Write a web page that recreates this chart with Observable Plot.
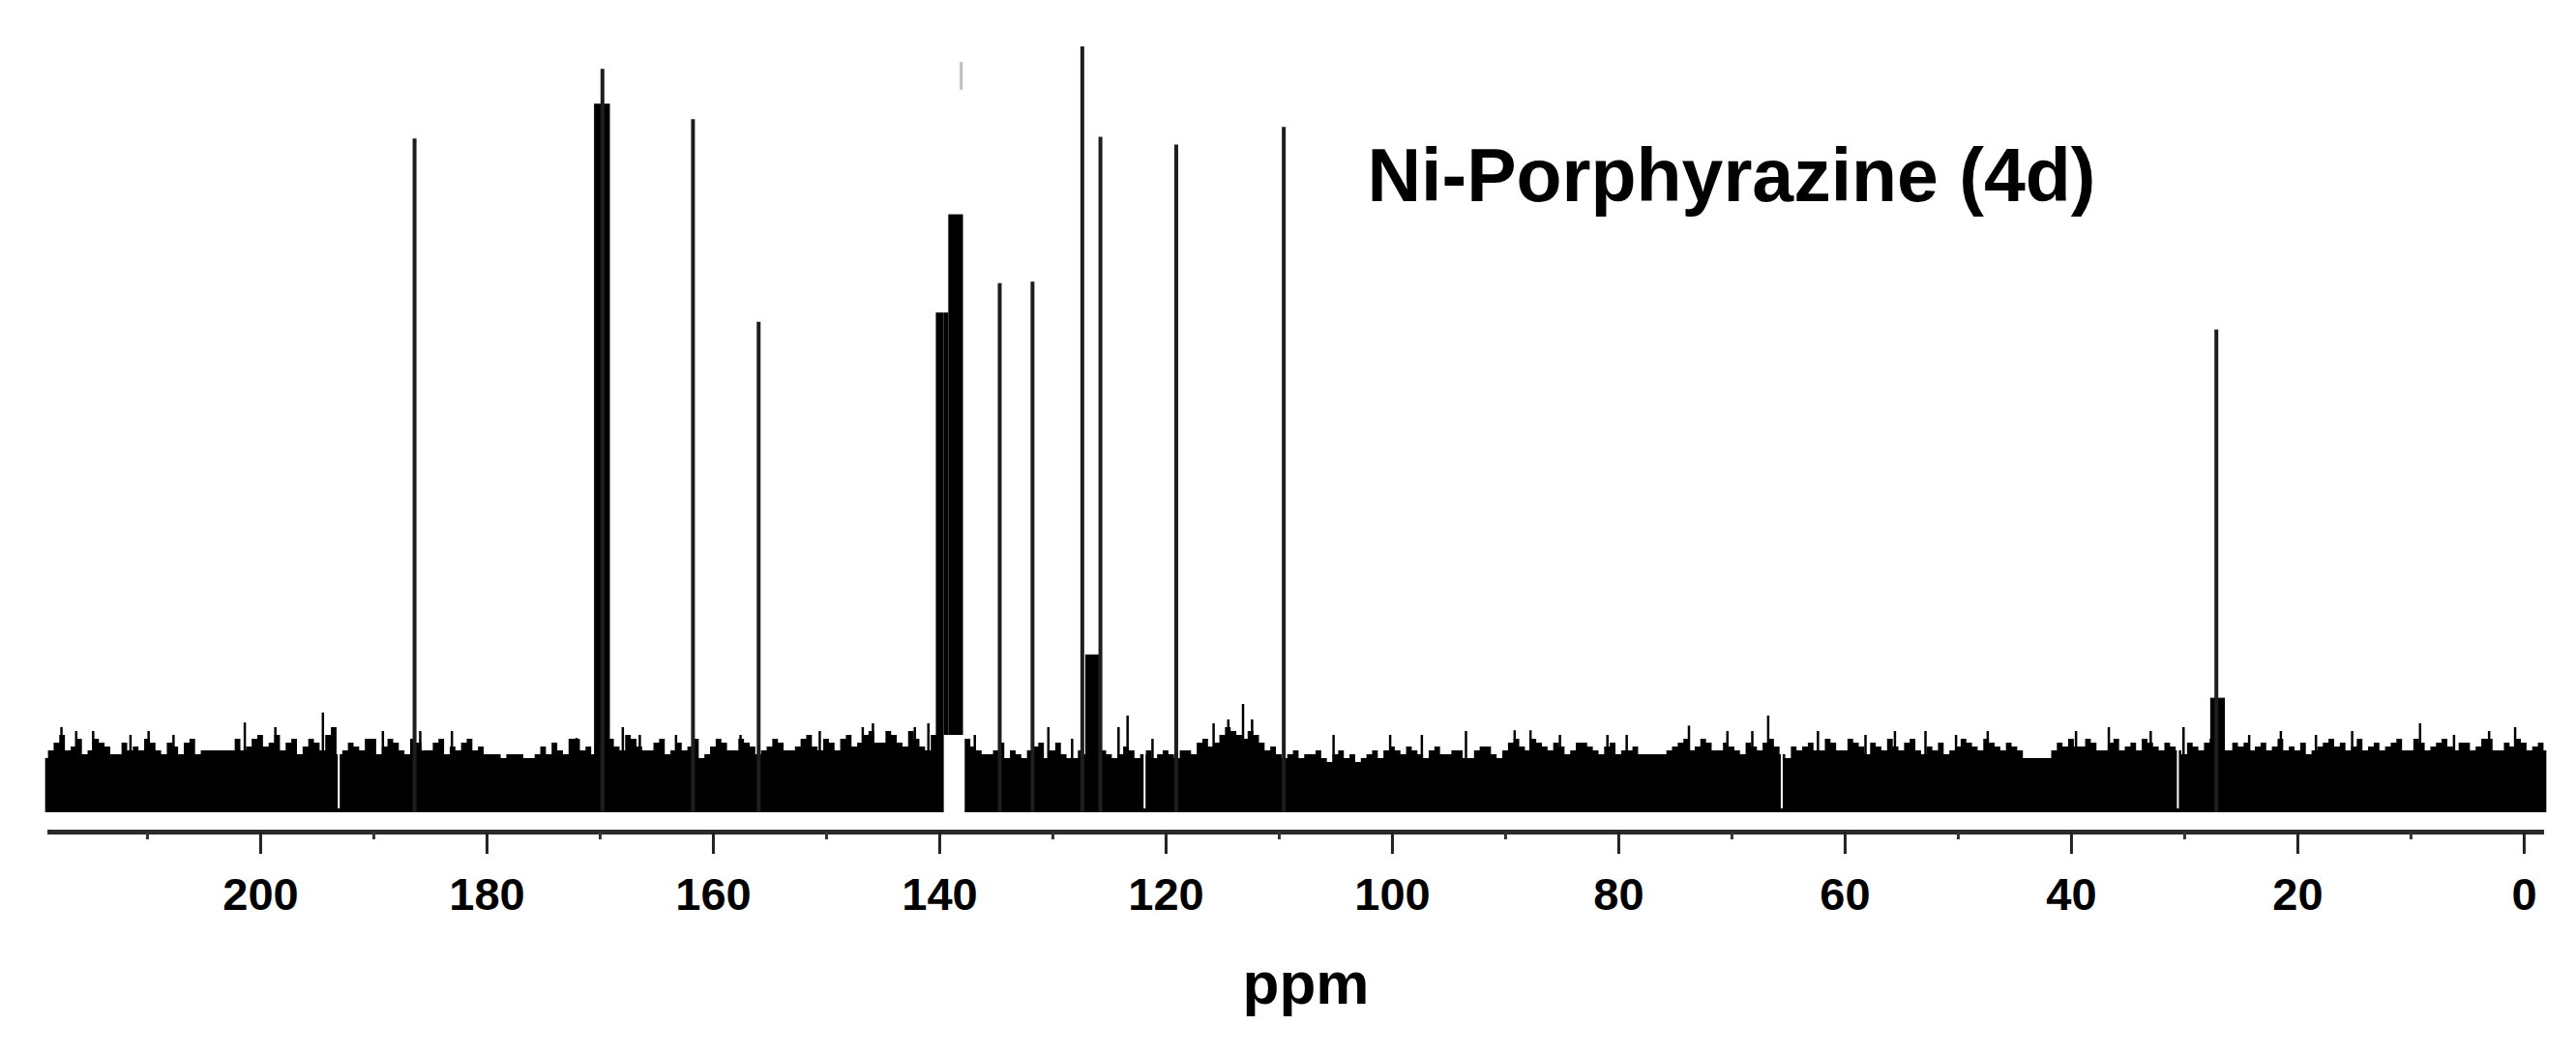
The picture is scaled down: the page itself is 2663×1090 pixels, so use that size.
<!DOCTYPE html>
<html>
<head>
<meta charset="utf-8">
<script src="https://cdn.jsdelivr.net/npm/d3@7"></script>
<script src="https://cdn.jsdelivr.net/npm/@observablehq/plot@0.6"></script>
<style>
  html, body { margin: 0; padding: 0; background: #fff; }
  #chart svg { display: block; }
</style>
</head>
<body>
<div id="chart"></div>
<script>
// ---- data (x in ppm, intensity in arbitrary units; baseline = 0) ----
const chartTitle = "Ni-Porphyrazine (4d)";
const axisLabel = "ppm";
const xDomain = [218.8, -1.8];
const yDomain = [-2.5, 100];
const majorTicks = [200, 180, 160, 140, 120, 100, 80, 60, 40, 20, 0];
const minorTicks = [210, 190, 170, 150, 130, 110, 90, 70, 50, 30, 10];

// thin peak lines
const peakPpm    = [186.4, 169.8, 161.8, 156.0, 134.7, 131.8, 127.4, 125.8, 119.1, 109.6, 27.2];
const peakHeight = [87.1,  96.1,  89.6,  63.4,  68.4,  68.6,  99.0,  87.3,  86.3,  88.6,  62.4];

// faint grey tip above the 138 ppm cluster
const faintPpm = [138.1];
const faintLow = [93.4];
const faintHigh = [97.0];

// broad (thick) parts of peaks: ppm from, ppm to, bottom, top
const blockFrom   = [170.5, 140.3, 139.2, 127.1, 27.7];
const blockTo     = [169.1, 139.6, 137.9, 125.8, 26.4];
const blockBottom = [0,     0,     10,    0,     0];
const blockTop    = [91.6,  64.6,  77.3,  20.4,  14.8];
const shoulderFrom = [139.6];
const shoulderTo   = [139.2];
const shoulderBottom = [10];
const shoulderTop  = [64.6];

// baseline noise envelope, one value per ppm from 219 down to -2
const noiseStartPpm = 219;
const noiseTop = [
  7.0, 9.0, 8.0, 9.5, 8.0, 9.0, 7.5, 9.0, 8.5, 9.5,   // 219..210
  8.0, 9.0, 7.5, 9.5, 8.0, 8.0, 8.0, 9.5, 8.5, 10.0,  // 209..200
  9.0, 8.0, 9.5, 8.5, 9.0, 10.0, 7.5, 9.0, 8.0, 9.5,  // 199..190
  8.5, 9.0, 7.5, 9.0, 8.0, 9.5, 8.5, 9.0, 8.0, 7.5,   // 189..180
  7.5, 7.5, 7.5, 7.0, 8.5, 9.0, 7.5, 9.5, 8.5, 8.0,   // 179..170
  9.5, 8.0, 9.5, 8.0, 9.0, 7.5, 9.0, 8.5, 7.0, 8.5,   // 169..160
  9.0, 8.0, 9.0, 7.5, 8.5, 9.0, 8.0, 9.5, 8.5, 9.5,   // 159..150
  8.0, 10.0, 9.0, 10.5, 9.0, 10.0, 8.5, 9.5, 8.0, 9.0,// 149..140
  0, 0, 8.5, 7.5, 8.0, 7.0, 7.5, 8.0, 9.0, 8.0,       // 139..130
  7.5, 7.0, 7.5, 7.0, 7.5, 7.5, 8.0, 7.5, 7.0, 8.0,   // 129..120
  7.0, 8.0, 9.0, 8.5, 10.0, 10.5, 9.5, 10.0, 8.0, 7.5,// 119..110
  7.5, 7.0, 7.5, 7.0, 7.5, 7.0, 6.5, 7.5, 7.0, 8.5,   // 109..100
  7.5, 8.0, 7.0, 8.5, 7.5, 8.0, 7.0, 8.5, 7.5, 8.0,   // 99..90
  9.5, 8.0, 9.0, 8.0, 8.5, 8.0, 9.0, 8.0, 8.5, 7.5,   // 89..80
  8.0, 7.5, 7.5, 7.5, 8.5, 9.5, 8.5, 9.0, 8.0, 8.5,   // 79..70
  7.5, 8.5, 9.0, 8.5, 7.0, 8.0, 9.0, 8.0, 9.0, 8.0,   // 69..60
  9.0, 7.5, 8.5, 9.5, 8.0, 9.5, 7.5, 8.0, 7.5, 8.5,   // 59..50
  9.0, 8.0, 9.0, 8.0, 8.5, 7.0, 7.0, 7.0, 9.0, 9.5,   // 49..40
  8.5, 9.0, 8.0, 9.5, 8.5, 8.0, 9.0, 8.0, 8.5, 7.5,   // 39..30
  8.5, 9.0, 8.5, 8.0, 8.5, 8.0, 9.0, 8.5, 8.0, 8.0,   // 29..20
  7.5, 8.5, 9.5, 9.0, 8.5, 8.0, 9.0, 8.5, 9.5, 8.0,   // 19..10
  9.0, 8.5, 9.5, 8.0, 9.0, 8.5, 9.5, 8.0, 8.5, 9.0,   // 9..0
  8.5, 8.0                                            // -1..-2
];
// the same envelope at the half-ppm points, 218.5 down to -1.5
const noiseTopHalf = [
  8.0, 10.0, 8.5, 7.5, 9.5, 8.5, 7.5, 8.0, 8.0, 9.0,  // 218.5..209.5
  7.5, 8.5, 9.0, 7.5, 8.0, 8.0, 8.0, 8.0, 9.5, 8.5,   // 208.5..199.5
  10.0, 9.0, 7.5, 9.5, 8.0, 11.0, 8.0, 8.5, 9.5, 7.5, // 198.5..189.5
  9.5, 8.0, 9.5, 8.0, 9.0, 7.5, 8.0, 9.5, 8.5, 7.5,   // 188.5..179.5
  7.0, 7.5, 7.0, 7.5, 7.5, 8.0, 9.5, 8.0, 7.5, 9.0,   // 178.5..169.5
  8.5, 10.0, 8.5, 8.0, 9.5, 8.0, 8.0, 9.5, 7.5, 9.5,  // 168.5..159.5
  8.0, 9.5, 8.5, 8.0, 9.5, 8.0, 8.5, 10.0, 8.0, 9.0,  // 158.5..149.5
  9.5, 8.5, 10.0, 9.0, 10.5, 9.0, 10.5, 8.5, 10.0, 0, // 148.5..139.5
  0, 9.5, 8.0, 7.5, 9.0, 8.0, 7.0, 8.5, 7.0, 9.0,     // 138.5..129.5
  7.0, 8.0, 6.5, 8.0, 7.0, 8.5, 7.0, 8.0, 7.5, 7.5,   // 128.5..119.5
  8.0, 7.5, 9.5, 9.0, 11.0, 10.0, 10.5, 9.0, 8.5, 7.0,// 118.5..109.5
  8.0, 7.5, 8.0, 6.5, 8.0, 7.5, 7.0, 8.0, 8.0, 8.0,   // 108.5..99.5
  8.5, 7.5, 8.0, 7.5, 8.0, 7.0, 8.0, 8.5, 7.0, 9.0,   // 98.5..89.5
  8.5, 9.5, 8.5, 9.0, 7.5, 9.0, 8.5, 7.5, 9.0, 8.0,   // 88.5..79.5
  8.5, 7.5, 7.5, 8.0, 9.0, 8.0, 9.5, 8.0, 9.0, 8.0,   // 78.5..69.5
  9.0, 8.0, 9.5, 7.5, 8.5, 8.5, 8.0, 9.5, 8.0, 9.5,   // 68.5..59.5
  8.5, 9.0, 8.0, 8.5, 9.0, 8.0, 8.5, 9.0, 8.0, 9.5,   // 58.5..49.5
  8.5, 9.5, 8.5, 9.0, 8.0, 7.0, 7.0, 8.0, 8.5, 8.5,   // 48.5..39.5
  9.5, 8.0, 9.0, 8.0, 9.0, 9.5, 8.5, 9.0, 8.0, 9.0,   // 38.5..29.5
  8.0, 9.5, 8.0, 9.0, 9.0, 8.5, 8.0, 9.5, 8.5, 9.0,   // 28.5..19.5
  8.0, 9.0, 8.5, 8.0, 9.5, 8.5, 8.0, 9.0, 8.0, 9.5,   // 18.5..9.5
  8.0, 9.0, 8.5, 9.0, 8.0, 9.5, 8.0, 9.0, 9.5, 8.0,   // 8.5..-0.5
  9.0                                                 // -1.5
];

// individual noise spikes rising above the band
const spikePpm = [217.6, 216.3, 214.8, 211.5, 209.9, 207.7, 201.4, 198.7, 194.5, 189.2, 185.9, 183.1,
  172.1, 168.0, 166.5, 163.3, 157.6, 150.6, 146.8, 145.9, 142.2, 141.0, 136.9, 130.4, 128.3, 124.2,
  123.4, 121.2, 115.8, 114.5, 113.2, 112.4, 105.2, 100.2, 97.4, 93.5, 89.2, 87.8, 85.2, 81.0, 79.3,
  73.8, 70.4, 68.2, 66.8, 62.4, 58.2, 55.6, 52.9, 50.2, 47.4, 39.6, 36.7, 33.0, 30.1, 24.3, 21.5,
  18.4, 15.2, 9.2, 6.2, 3.1, 0.8];
const spikeHeight = [11, 10.5, 10.5, 10, 10.5, 10, 11.6, 11, 12.9, 10.5, 10.5, 10.5,
  9.6, 11, 10, 10, 10, 10.5, 11, 11.5, 11, 11.5, 10, 11, 9.5, 11,
  12.5, 9.5, 11.5, 12, 14, 12, 10, 10, 10, 10.5, 10.6, 10.6, 10, 10, 10,
  11.2, 10.5, 10.5, 12.5, 10.5, 10, 10.5, 10.5, 10, 10.5, 10.5, 11, 10.5, 11, 10, 10.5,
  10, 10.5, 11.5, 10, 10.5, 11];

// thin white breaks in the noise band
const gapPpm = [193.1, 121.9, 65.6, 30.6];
const gapLow = [0.5, 0.5, 0.5, 0.5];
const gapHigh = [9.0, 8.5, 9.0, 8.5];

// ---- build tables ----
const noise = [
  ...noiseTop.map((v, i) => ({ppm: noiseStartPpm - i, top: v})),
  ...noiseTopHalf.map((v, i) => ({ppm: noiseStartPpm - 0.5 - i, top: v}))
].sort((a, b) => b.ppm - a.ppm);
const peaks = peakPpm.map((p, i) => ({ppm: p, h: peakHeight[i]}));
const faint = faintPpm.map((p, i) => ({ppm: p, lo: faintLow[i], hi: faintHigh[i]}));
const blocks = [
  ...blockFrom.map((p, i) => ({x1: p, x2: blockTo[i], y1: blockBottom[i], y2: blockTop[i]})),
  ...shoulderFrom.map((p, i) => ({x1: p, x2: shoulderTo[i], y1: shoulderBottom[i], y2: shoulderTop[i]}))
];
const spikes = spikePpm.map((p, i) => ({ppm: p, h: spikeHeight[i]}));
const gaps = gapPpm.map((p, i) => ({ppm: p, lo: gapLow[i], hi: gapHigh[i]}));

const font = "'Liberation Sans', Arial, Helvetica, sans-serif";

const chart = Plot.plot({
  width: 2663,
  height: 1090,
  marginLeft: 49,
  marginRight: 33,
  marginTop: 40,
  marginBottom: 230,
  style: {fontFamily: font, background: "#fff", overflow: "visible"},
  x: {domain: xDomain, axis: null},
  y: {domain: yDomain, axis: null},
  marks: [
    Plot.areaY(noise, {x: "ppm", y: "top", curve: "step", fill: "#000"}),
    Plot.ruleX(spikes, {x: "ppm", y1: 0, y2: "h", stroke: "#000", strokeWidth: 2.5}),
    Plot.ruleX(gaps, {x: "ppm", y1: "lo", y2: "hi", stroke: "#fff", strokeWidth: 2}),
    Plot.rectY(blocks, {x1: "x1", x2: "x2", y1: "y1", y2: "y2", fill: "#000"}),
    Plot.ruleX(faint, {x: "ppm", y1: "lo", y2: "hi", stroke: "#c0c0c0", strokeWidth: 3}),
    Plot.ruleX(peaks, {x: "ppm", y1: 0, y2: "h", stroke: "#1e1e1e", strokeWidth: 4}),
    Plot.ruleY([yDomain[0]], {stroke: "#2a2a2a", strokeWidth: 5}),
    Plot.axisX(minorTicks, {tickSize: 8, tickFormat: () => "", strokeWidth: 3, stroke: "#333", label: null}),
    Plot.axisX(majorTicks, {
      tickSize: 23, tickPadding: 24, strokeWidth: 3, stroke: "#222",
      fontSize: 47, fontWeight: "bold", fill: "#000", label: null
    }),
    Plot.text([axisLabel], {
      frameAnchor: "bottom", dy: 177, dx: 10, text: d => d,
      fontSize: 62, fontWeight: "bold", fill: "#000"
    }),
    Plot.text([chartTitle], {
      frameAnchor: "top-left", textAnchor: "start", lineAnchor: "top",
      dx: 1364, dy: 113, text: d => d,
      fontSize: 77, fontWeight: "bold", fill: "#000"
    })
  ]
});

document.getElementById("chart").appendChild(chart);
</script>
</body>
</html>
